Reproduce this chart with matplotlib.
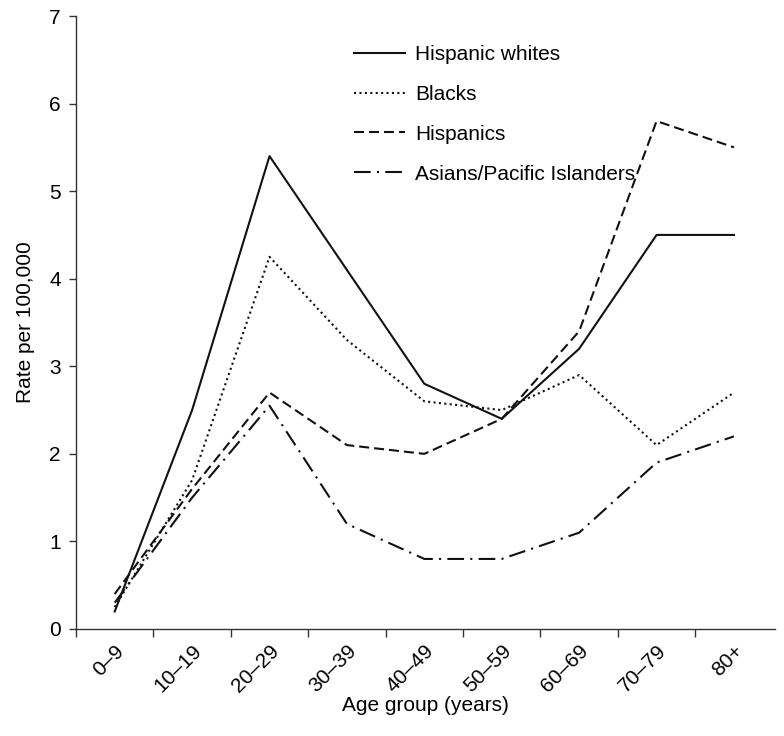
import matplotlib
matplotlib.use("Agg")
import matplotlib.pyplot as plt
import numpy as np

plt.rcParams['font.family'] = ['Liberation Sans', 'DejaVu Sans']

# grupos etários e taxas por 100.000
age_groups = ['0–9', '10–19', '20–29', '30–39', '40–49', '50–59', '60–69', '70–79', '80+']
hispanic_whites = [0.2, 2.5, 5.4, 4.1, 2.8, 2.4, 3.2, 4.5, 4.5]
blacks = [0.25, 1.7, 4.25, 3.3, 2.6, 2.5, 2.9, 2.1, 2.7]
hispanics = [0.4, 1.6, 2.7, 2.1, 2.0, 2.4, 3.4, 5.8, 5.5]
asians = [0.3, 1.5, 2.55, 1.2, 0.8, 0.8, 1.1, 1.9, 2.2]

series = [
    ('Hispanic whites', hispanic_whites, '-'),
    ('Blacks', blacks, (0, (1, 1.6))),
    ('Hispanics', hispanics, (0, (4.8, 2.4))),
    ('Asians/Pacific Islanders', asians, (0, (8, 3, 1, 3))),
]

fig = plt.figure(figsize=(7.84, 7.36), dpi=100)
ax = fig.add_axes([76/784, 1-629/736, (775-76)/784, (629-16)/736])

x = np.arange(len(age_groups)) + 0.5
for name, vals, ls in series:
    ax.plot(x, vals, color='#111111', linestyle=ls, linewidth=1.5, label=name)

ax.set_xlim(0, len(age_groups) + 0.03)
ax.set_ylim(0, 7)

# ticks nas fronteiras, rótulos no centro
ax.set_xticks(np.arange(len(age_groups)))
ax.set_xticklabels([])
ax.set_xticks(x, minor=True)
ax.set_xticklabels(age_groups, minor=True, rotation=45, ha='right', va='top',
                   rotation_mode='anchor', fontsize=15)
ax.tick_params(axis='x', which='major', length=6, width=1, color='#333333')
ax.tick_params(axis='x', which='minor', length=0, pad=9)
ax.set_yticks(range(8))
ax.tick_params(axis='y', length=5, width=1, color='#333333', labelsize=15, pad=6)

for s in ['top', 'right']:
    ax.spines[s].set_visible(False)
for s in ['left', 'bottom']:
    ax.spines[s].set_color('#333333')
    ax.spines[s].set_linewidth(1)

ax.set_xlabel('Age group (years)', fontsize=15, labelpad=0)
ax.set_ylabel('Rate per 100,000', fontsize=15, labelpad=10)

fig.legend(loc='upper left', bbox_to_anchor=(354/784, 1-45/736), frameon=False,
           fontsize=15, handlelength=2.45, handletextpad=0.48, labelspacing=1.0,
           borderpad=0, borderaxespad=0)

plt.savefig('out.png', dpi=100)
